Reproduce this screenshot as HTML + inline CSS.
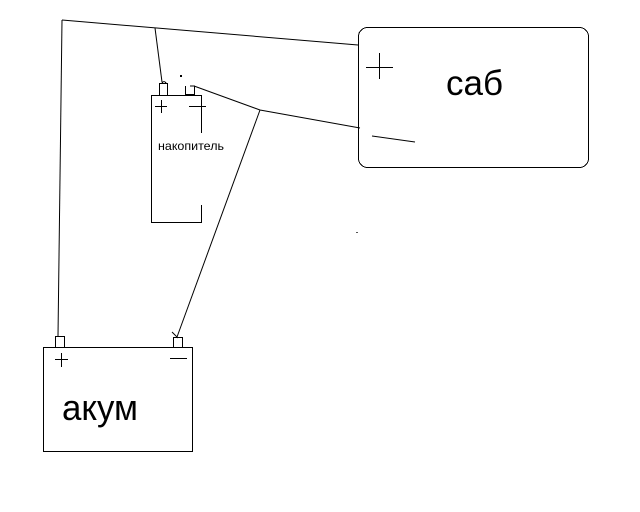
<!DOCTYPE html>
<html><head><meta charset="utf-8"><style>
html,body{margin:0;padding:0;background:#fff;}
svg{display:block;}
text{font-family:"Liberation Sans","DejaVu Sans",sans-serif;fill:#000;}
</style></head><body>
<svg width="640" height="512" viewBox="0 0 640 512" xmlns="http://www.w3.org/2000/svg">
<g stroke="#000" stroke-width="1" fill="none" shape-rendering="crispEdges">
<rect x="358.5" y="27.5" width="230" height="140" rx="9" ry="9"/>
<line x1="366" y1="67.5" x2="393" y2="67.5"/>
<line x1="379.5" y1="53" x2="379.5" y2="79"/>
<line x1="372" y1="136" x2="415" y2="142" shape-rendering="auto"/>
<polyline points="201.5,133 201.5,95.5 151.5,95.5 151.5,222.5 201.5,222.5 201.5,205"/>
<line x1="155" y1="106.5" x2="167" y2="106.5"/>
<line x1="161.5" y1="100" x2="161.5" y2="113"/>
<line x1="189" y1="106.5" x2="206" y2="106.5"/>
<path d="M159.5,95 V83.5 H167.5 V95 M162,83 q2,-3 4,0"/>
<path d="M185.5,86 V94.5 H194.5 V86 H190"/>
<rect x="43.5" y="347.5" width="149" height="104"/>
<rect x="55.5" y="336.5" width="9" height="11"/>
<rect x="173.5" y="337.5" width="9" height="10"/>
<line x1="55" y1="359.5" x2="68" y2="359.5"/>
<line x1="61.5" y1="353" x2="61.5" y2="367"/>
<line x1="170" y1="358.5" x2="187" y2="358.5"/>
</g>
<g stroke="#000" stroke-width="1" fill="none">
<line x1="62" y1="20" x2="358" y2="45"/>
<line x1="62" y1="20" x2="58" y2="336"/>
<line x1="155" y1="28" x2="162" y2="82"/>
<polyline points="194,86 260,110 360,128"/>
<line x1="260" y1="110" x2="177" y2="337"/>
<line x1="172" y1="332" x2="178" y2="338"/>
</g>
<rect x="180" y="75" width="2" height="2" fill="#000"/>
<rect x="356" y="232" width="2" height="1" fill="#555"/>
<text x="446" y="95" font-size="35">саб</text>
<text x="158" y="150" font-size="12" textLength="66" lengthAdjust="spacingAndGlyphs">накопитель</text>
<text x="62" y="420" font-size="36" textLength="76" lengthAdjust="spacingAndGlyphs">акум</text>
</svg>
</body></html>
